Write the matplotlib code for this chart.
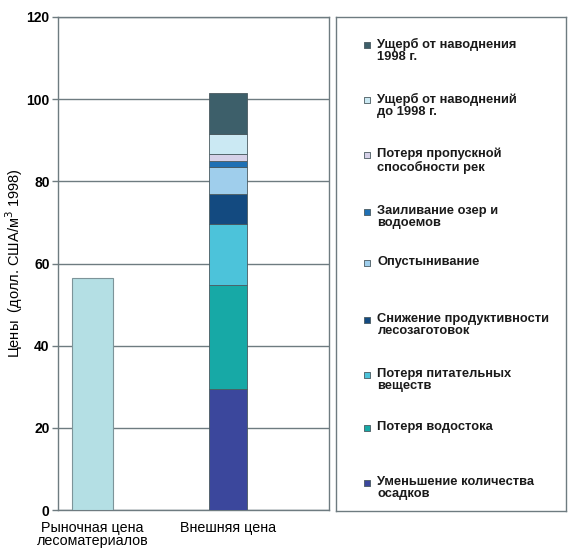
import matplotlib.pyplot as plt

plt.rcParams['font.family'] = ['Liberation Sans', 'DejaVu Sans']

categories = ['Рыночная цена\nлесоматериалов', 'Внешняя цена']
market_price = 56.4

# stacked parts of the external price, bottom to top
parts = ['Уменьшение количества\nосадков',
         'Потеря водостока',
         'Потеря питательных\nвеществ',
         'Снижение продуктивности\nлесозаготовок',
         'Опустынивание',
         'Заиливание озер и\nводоемов',
         'Потеря пропускной\nспособности рек',
         'Ущерб от наводнений\nдо 1998 г.',
         'Ущерб от наводнения\n1998 г.']
values = [29.4, 25.4, 14.9, 7.2, 6.65, 1.3, 1.75, 5.0, 9.8]
colors = ['#3B479C', '#17A9A6', '#4CC3DA', '#134A80', '#9FCEEC',
          '#1F70B4', '#D6D1E8', '#CBE9F3', '#3D5F6A']

fig = plt.figure(figsize=(5.68, 5.48), dpi=100)
ax = fig.add_axes([58/568, 1-510/548, 271/568, 493/548])

edge = '#4A5A60'
ax.bar(0, market_price, width=0.3, color='#B4DFE4', edgecolor='#7D9499', linewidth=0.8, zorder=3)
bottom = 0
for v, c in zip(values, colors):
    ax.bar(1, v, bottom=bottom, width=0.28, color=c, edgecolor=edge, linewidth=0.6, zorder=3)
    bottom += v

ax.set_xlim(-0.255, 1.745)
ax.set_ylim(0, 120)
ax.set_yticks(range(0, 121, 20))
ax.set_xticks([0, 1])
ax.set_xticklabels(categories, fontsize=10.3, linespacing=0.92)
ax.tick_params(axis='x', length=0, pad=8)
ax.tick_params(axis='y', length=4, color='#6E7B80', width=1, pad=2)
for lbl in ax.get_yticklabels():
    lbl.set_fontweight('bold')
    lbl.set_fontsize(10)
ax.yaxis.grid(True, color='#6E7B80', linewidth=1, zorder=0)
for s in ax.spines.values():
    s.set_color('#6E7B80')
    s.set_linewidth(1)
ax.set_ylabel('Цены  (долл. США/м$^3$ 1998)', fontsize=10.5, labelpad=1)

# legend panel
lax = fig.add_axes([336/568, 1-511/548, 230/568, 494/548])
lax.set_xlim(0, 1)
lax.set_ylim(0, 1)
lax.set_xticks([])
lax.set_yticks([])
for s in lax.spines.values():
    s.set_color('#6E7B80')
    s.set_linewidth(1)
ys = [45, 100, 155, 212, 263, 320, 375, 428, 483]
for y, lab, c in zip(ys, parts[::-1], colors[::-1]):
    yy = 1 - (y - 17) / 494
    lax.scatter(0.135, yy, marker='s', s=22, color=c, edgecolor='#4A5A60', linewidth=0.6)
    lax.text(0.18, yy + 0.015, lab, fontsize=9.3, fontweight='bold', va='top',
             ha='left', linespacing=1.05, color='#1A1A1A')

fig.savefig('out.png', dpi=100)
